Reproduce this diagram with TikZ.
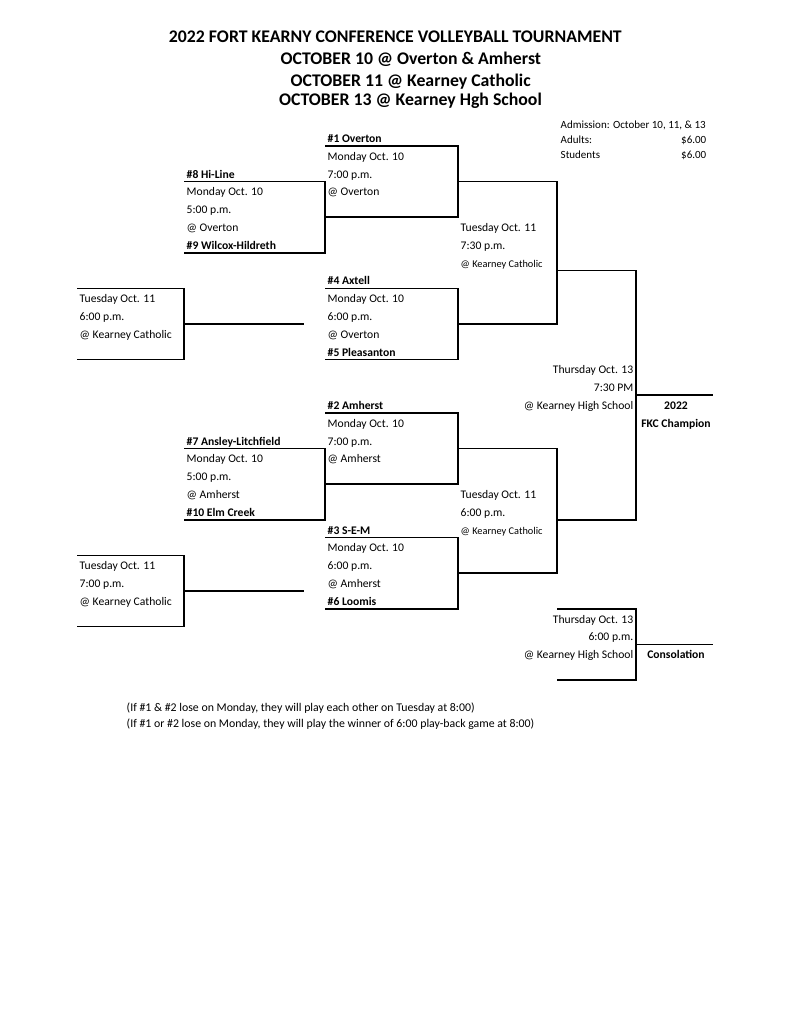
\documentclass[tikz,border=0pt]{standalone}
\usepackage{fontspec}
\setmainfont{Carlito}
\newcommand\lnY[1]{146+17.8*#1}
\newcommand\rwY[1]{142.5+17.8*#1}
\newcommand\brk[4]{\draw (#1,{\lnY{#3}}) -| (#2,{\lnY{#4}}) -- (#1,{\lnY{#4}});}
\begin{document}
\begin{tikzpicture}[x=0.7737pt,y=-0.7737pt, line width=1.1pt,
  txt/.style={anchor=base west,inner sep=0pt,font=\fontsize{9}{10}\selectfont},
  bld/.style={txt,font=\fontsize{9}{10}\selectfont\bfseries},
  rtxt/.style={txt,anchor=base east},
  sml/.style={txt,font=\fontsize{8}{9}\selectfont},
  adm/.style={txt,font=\fontsize{8.5}{9}\selectfont},
  ctrb/.style={bld,anchor=base},
  foot/.style={txt,font=\fontsize{9.15}{10}\selectfont},
  ttl/.style={anchor=base,inner sep=0pt,font=\fontsize{13.75}{15}\selectfont\bfseries}]
\useasboundingbox[fill=white] (0,0) rectangle (791,1024);
% titles
\node[ttl] (t1) at (395.3,42.5) {2022 FORT KEARNY CONFERENCE VOLLEYBALL TOURNAMENT};
\node[ttl] (t2) at (410.8,64.5) {OCTOBER 10 @ Overton \& Amherst};
\node[ttl] (t3) at (410.7,86) {OCTOBER 11 @ Kearney Catholic};
\node[ttl] (t4) at (410.5,105.5) {OCTOBER 13 @ Kearney Hgh School};
% admission
\node[adm] (ad0) at (560,128.5) {Admission: October 10, 11, \& 13};
\node[adm] (ad1) at (560,143) {Adults:};
\node[adm,anchor=base east] (ad2) at (707,143) {\$6.00};
\node[adm] (ad3) at (560,158.7) {Students};
\node[adm,anchor=base east] (ad4) at (707,158.7) {\$6.00};
% brackets
\brk{325}{458}{0}{4}
\brk{184}{325}{2}{6}
\brk{458}{557}{2}{10}
\brk{325}{458}{8}{12}
\brk{77}{184}{8}{12}
\draw (184,{\lnY{10}}) -- (304,{\lnY{10}});
\brk{557}{636}{7}{21}
\draw (636,{\lnY{14}}) -- (713,{\lnY{14}});
\brk{325}{458}{15}{19}
\brk{184}{325}{17}{21}
\brk{458}{557}{17}{24}
\brk{325}{458}{22}{26}
\brk{77}{184}{23}{27}
\draw (184,{\lnY{25}}) -- (304,{\lnY{25}});
\brk{557}{636}{26}{30}
\draw (636,{\lnY{28}}) -- (713,{\lnY{28}});
% A
\node[bld] (a0) at (327,{\rwY{0}}) {\#1 Overton};
\node[txt] (a1) at (327,{\rwY{1}}) {Monday Oct. 10};
\node[txt] (a2) at (327,{\rwY{2}}) {7:00 p.m.};
\node[txt] (a3) at (327,{\rwY{3}}) {@ Overton};
% B
\node[bld] (b0) at (186,{\rwY{2}}) {\#8 Hi-Line};
\node[txt] (b1) at (186,{\rwY{3}}) {Monday Oct. 10};
\node[txt] (b2) at (186,{\rwY{4}}) {5:00 p.m.};
\node[txt] (b3) at (186,{\rwY{5}}) {@ Overton};
\node[bld] (b4) at (186,{\rwY{6}}) {\#9 Wilcox-Hildreth};
% C
\node[txt] (c0) at (460,{\rwY{5}}) {Tuesday Oct. 11};
\node[txt] (c1) at (460,{\rwY{6}}) {7:30 p.m.};
\node[sml] (c2) at (460,{\rwY{7}}) {@ Kearney Catholic};
% D
\node[bld] (d0) at (327,{\rwY{8}}) {\#4 Axtell};
\node[txt] (d1) at (327,{\rwY{9}}) {Monday Oct. 10};
\node[txt] (d2) at (327,{\rwY{10}}) {6:00 p.m.};
\node[txt] (d3) at (327,{\rwY{11}}) {@ Overton};
\node[bld] (d4) at (327,{\rwY{12}}) {\#5 Pleasanton};
% E
\node[txt] (e0) at (79,{\rwY{9}}) {Tuesday Oct. 11};
\node[txt] (e1) at (79,{\rwY{10}}) {6:00 p.m.};
\node[txt] (e2) at (79,{\rwY{11}}) {@ Kearney Catholic};
% F
\node[rtxt] (f0) at (634,{\rwY{13}}) {Thursday Oct. 13};
\node[rtxt] (f1) at (634,{\rwY{14}}) {7:30 PM};
\node[rtxt] (f2) at (634,{\rwY{15}}) {@ Kearney High School};
\node[ctrb] (f3) at (676,{\rwY{15}}) {2022};
\node[ctrb] (f4) at (676,{\rwY{16}}) {FKC Champion};
% A'
\node[bld] (p0) at (327,{\rwY{15}}) {\#2 Amherst};
\node[txt] (p1) at (327,{\rwY{16}}) {Monday Oct. 10};
\node[txt] (p2) at (327,{\rwY{17}}) {7:00 p.m.};
\node[txt] (p3) at (327,{\rwY{18}}) {@ Amherst};
% B'
\node[bld] (q0) at (186,{\rwY{17}}) {\#7 Ansley-Litchfield};
\node[txt] (q1) at (186,{\rwY{18}}) {Monday Oct. 10};
\node[txt] (q2) at (186,{\rwY{19}}) {5:00 p.m.};
\node[txt] (q3) at (186,{\rwY{20}}) {@ Amherst};
\node[bld] (q4) at (186,{\rwY{21}}) {\#10 Elm Creek};
% C'
\node[txt] (r0) at (460,{\rwY{20}}) {Tuesday Oct. 11};
\node[txt] (r1) at (460,{\rwY{21}}) {6:00 p.m.};
\node[sml] (r2) at (460,{\rwY{22}}) {@ Kearney Catholic};
% D'
\node[bld] (s0) at (327,{\rwY{22}}) {\#3 S-E-M};
\node[txt] (s1) at (327,{\rwY{23}}) {Monday Oct. 10};
\node[txt] (s2) at (327,{\rwY{24}}) {6:00 p.m.};
\node[txt] (s3) at (327,{\rwY{25}}) {@ Amherst};
\node[bld] (s4) at (327,{\rwY{26}}) {\#6 Loomis};
% E'
\node[txt] (u0) at (79,{\rwY{24}}) {Tuesday Oct. 11};
\node[txt] (u1) at (79,{\rwY{25}}) {7:00 p.m.};
\node[txt] (u2) at (79,{\rwY{26}}) {@ Kearney Catholic};
% F'
\node[rtxt] (v0) at (634,{\rwY{27}}) {Thursday Oct. 13};
\node[rtxt] (v1) at (634,{\rwY{28}}) {6:00 p.m.};
\node[rtxt] (v2) at (634,{\rwY{29}}) {@ Kearney High School};
\node[ctrb] (v3) at (676,{\rwY{29}}) {Consolation};
% footnotes
\node[foot] (n1) at (126,711) {(If \#1 \& \#2 lose on Monday, they will play each other on Tuesday at 8:00)};
\node[foot] (n2) at (126,727) {(If \#1 or \#2 lose on Monday, they will play the winner of 6:00 play-back game at 8:00)};
\end{tikzpicture}
\end{document}
